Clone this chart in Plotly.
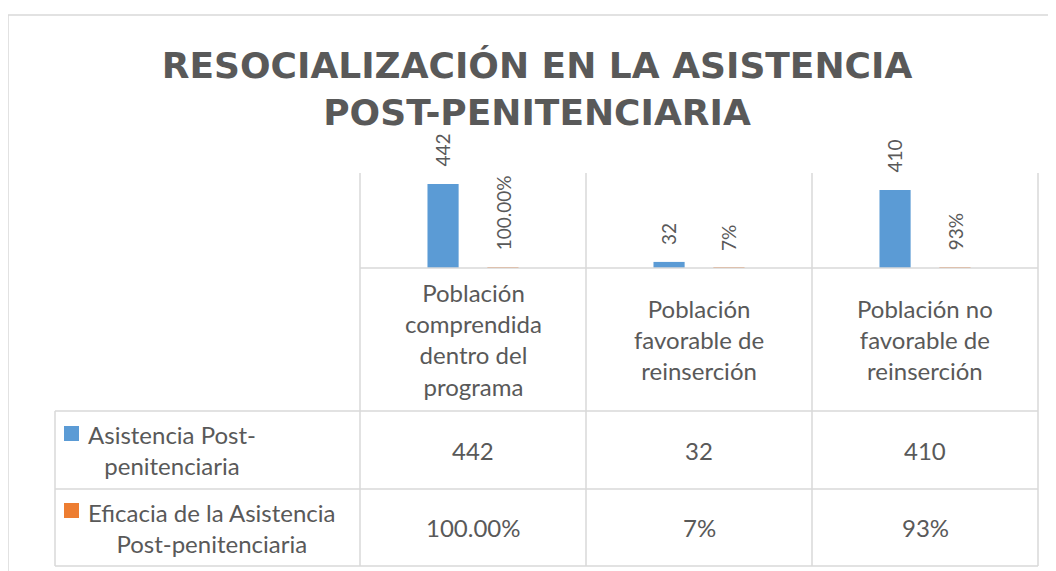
import plotly.graph_objects as go

# ---------------- data ----------------
categories = [
    "Población comprendida dentro del programa",
    "Población favorable de reinserción",
    "Población no favorable de reinserción",
]
category_labels = [
    "Población<br>comprendida<br>dentro del<br>programa",
    "Población<br>favorable de<br>reinserción",
    "Población no<br>favorable de<br>reinserción",
]
asistencia = [442, 32, 410]
asistencia_labels = ["442", "32", "410"]
eficacia = [1.00, 0.07, 0.93]
eficacia_labels = ["100.00%", "7%", "93%"]
series_names = ["Asistencia Post-penitenciaria",
                "Eficacia de la Asistencia Post-penitenciaria"]
series_labels = ["Asistencia Post-<br>penitenciaria",
                 "Eficacia de la Asistencia<br>Post-penitenciaria"]
title_text = "RESOCIALIZACIÓN EN LA ASISTENCIA<br>POST-PENITENCIARIA"

# ---------------- styling ----------------
W, H = 1056, 571
OFF = 8  # page body margin
BLUE, ORANGE = "#5B9BD5", "#ED7D31"
TXT = "#595959"
GRID = "#D9D9D9"
FONT = "Lato"


def px(x):
    return (x - OFF) / W


def py(y):
    return 1 - (y - OFF) / H


# layout geometry (page pixels)
PLOT_L, PLOT_R = 360, 1038
PLOT_T, PLOT_B = 173, 268
ROW_TOP, ROW_MID, ROW_BOT = 411, 489, 566
TABLE_L = 55

fig = go.Figure()
fig.add_trace(go.Bar(
    x=categories, y=asistencia, name=series_names[0],
    marker=dict(color=BLUE, line=dict(width=0)),
    cliponaxis=False, showlegend=False, hoverinfo="x+y",
))
fig.add_trace(go.Bar(
    x=categories, y=eficacia, name=series_names[1],
    marker=dict(color=ORANGE, line=dict(width=0)),
    cliponaxis=False, showlegend=False, hoverinfo="x+y",
))

shapes = []


def line(x0, y0, x1, y1, color=GRID, w=1.5):
    shapes.append(dict(type="line", xref="paper", yref="paper",
                       x0=px(x0), y0=py(y0), x1=px(x1), y1=py(y1),
                       line=dict(color=color, width=w), layer="above"))


# outer chart border
line(8, 15, W + OFF, 15)
line(8, 15, 8, H + OFF)
# plot/table grid
line(PLOT_L, PLOT_B, PLOT_R, PLOT_B)
for yy in (ROW_TOP, ROW_MID, ROW_BOT):
    line(TABLE_L, yy, PLOT_R, yy)
cat_w = (PLOT_R - PLOT_L) / len(categories)
for i in range(len(categories) + 1):
    xx = PLOT_L + i * cat_w
    line(xx, PLOT_T, xx, ROW_BOT)
line(TABLE_L, ROW_TOP, TABLE_L, ROW_BOT)

# legend keys in table
for col, (yt, yb) in zip([BLUE, ORANGE], [(426, 441), (503, 518)]):
    shapes.append(dict(type="rect", xref="paper", yref="paper",
                       x0=px(64), x1=px(79), y0=py(yb), y1=py(yt),
                       fillcolor=col, line=dict(width=0)))

annotations = []
# data labels above bars (rotated)
BAR_SHIFT = 30
for vals, labs, xs in ((asistencia, asistencia_labels, -BAR_SHIFT),
                       (eficacia, eficacia_labels, BAR_SHIFT)):
    for c, v, lab in zip(categories, vals, labs):
        annotations.append(dict(x=c, xref="x", y=v, yref="y", text=lab,
                                showarrow=False, textangle=-90,
                                xanchor="center", yanchor="bottom",
                                xshift=xs, yshift=15,
                                font=dict(family=FONT, size=19, color=TXT)))
# category header cells
for c, lab in zip(categories, category_labels):
    annotations.append(dict(x=c, xref="x", y=py((PLOT_B + ROW_TOP) / 2), yref="paper",
                            text=lab, showarrow=False, xanchor="center", yanchor="middle",
                            align="center", font=dict(family=FONT, size=24, color=TXT)))
# series name cells
row_centers = [(ROW_TOP + ROW_MID) / 2, (ROW_MID + ROW_BOT) / 2]
for lab, yc in zip(series_labels, row_centers):
    annotations.append(dict(x=px(86), xref="paper", y=py(yc), yref="paper",
                            text=lab, showarrow=False, xanchor="left", yanchor="middle",
                            align="center", font=dict(family=FONT, size=24, color=TXT)))
# value cells
for labels, yc in zip([asistencia_labels, eficacia_labels], row_centers):
    for c, v in zip(categories, labels):
        annotations.append(dict(x=c, xref="x", y=py(yc), yref="paper",
                                text=v, showarrow=False, xanchor="center", yanchor="middle",
                                font=dict(family=FONT, size=24, color=TXT)))

fig.update_layout(
    width=W, height=H, autosize=False,
    margin=dict(l=0, r=0, t=0, b=0),
    paper_bgcolor="white", plot_bgcolor="white",
    barmode="group", bargap=0.47, bargroupgap=0.48,
    title=dict(text=f"<b>{title_text}</b>", x=px(537), xanchor="center",
               y=py(78), yanchor="middle", xref="paper", yref="paper",
               font=dict(family="DejaVu Sans", size=36, color=TXT)),
    xaxis=dict(domain=[px(PLOT_L), px(PLOT_R)], showticklabels=False, showgrid=False,
               zeroline=False, showline=False, ticks=""),
    yaxis=dict(domain=[py(PLOT_B), py(PLOT_T)], range=[0, 500], visible=False),
    shapes=shapes, annotations=annotations,
    showlegend=False,
)

fig.write_html("out.html")
